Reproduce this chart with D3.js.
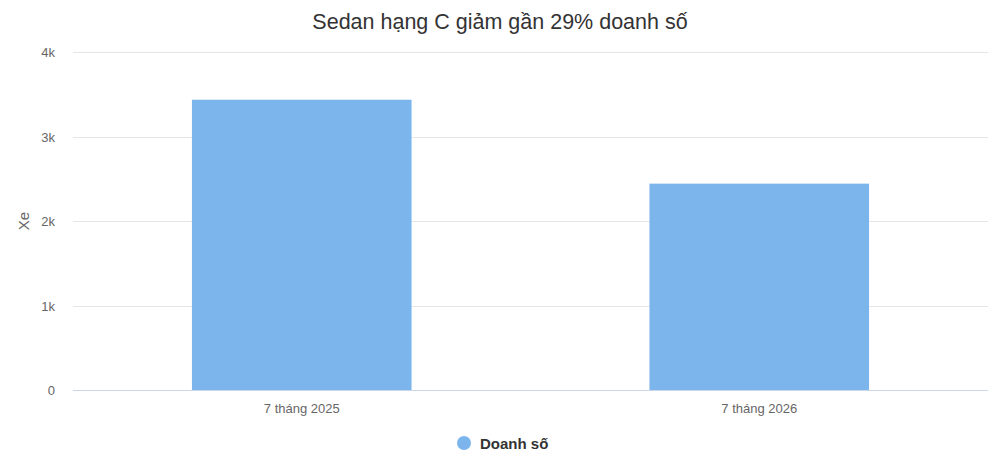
<!DOCTYPE html>
<html><head><meta charset="utf-8">
<script src="https://cdn.jsdelivr.net/npm/d3@7"></script>
<style>body{margin:0;background:#fff}svg{display:block}text{font-family:"Liberation Sans",Arial,sans-serif}</style>
</head><body><svg id="c" width="1000" height="475"></svg>
<script>
const categories = ["7 tháng 2025", "7 tháng 2026"];
const values = [3435, 2442];
const yTicks = [0, 1000, 2000, 3000, 4000];
const yTickLabels = ["0", "1k", "2k", "3k", "4k"];
const seriesName = "Doanh số";
const titleText = "Sedan hạng C giảm gần 29% doanh số";
const yTitle = "Xe";

const svg = d3.select("#c");
const m = {l: 73, r: 12, t: 52, b: 85};
const W = 1000, H = 475;
const x = d3.scaleBand().domain(categories).range([m.l, W - m.r]).paddingInner(0.52).paddingOuter(0.26);
const y = d3.scaleLinear().domain([0, 4000]).range([H - m.b, m.t]);

svg.append("text").attr("x", 500).attr("y", 29).attr("text-anchor", "middle")
  .attr("font-size", 21.5).attr("fill", "#333").text(titleText);

const grid = svg.append("g");
grid.selectAll("line").data(yTicks.slice(1)).join("line")
  .attr("x1", m.l).attr("x2", W - m.r)
  .attr("y1", d => Math.round(y(d)) + 0.5).attr("y2", d => Math.round(y(d)) + 0.5)
  .attr("stroke", "#e6e6e6");

svg.append("g").selectAll("text").data(yTicks).join("text")
  .attr("x", 55).attr("y", d => y(d) + 5).attr("text-anchor", "end")
  .attr("font-size", 13).attr("fill", "#666").text((d, i) => yTickLabels[i]);

svg.append("text").attr("transform", `translate(29,${(m.t + H - m.b) / 2}) rotate(-90)`)
  .attr("text-anchor", "middle").attr("font-size", 15).attr("fill", "#666").text(yTitle);

svg.append("g").selectAll("rect").data(values).join("rect")
  .attr("x", (d, i) => x(categories[i])).attr("width", x.bandwidth())
  .attr("y", d => y(d)).attr("height", d => y(0) - y(d))
  .attr("fill", "#7cb5ec");

svg.append("line").attr("x1", m.l).attr("x2", W - m.r)
  .attr("y1", Math.round(y(0)) + 0.5).attr("y2", Math.round(y(0)) + 0.5).attr("stroke", "#ccd6eb");

svg.append("g").selectAll("text").data(categories).join("text")
  .attr("x", d => x(d) + x.bandwidth() / 2).attr("y", y(0) + 23).attr("text-anchor", "middle")
  .attr("font-size", 13).attr("fill", "#666").text(d => d);

const lg = svg.append("g");
lg.append("circle").attr("cx", 464).attr("cy", 443).attr("r", 7).attr("fill", "#7cb5ec");
lg.append("text").attr("x", 480).attr("y", 448.5).attr("font-size", 15).attr("font-weight", "bold")
  .attr("fill", "#333").text(seriesName);
</script></body></html>
